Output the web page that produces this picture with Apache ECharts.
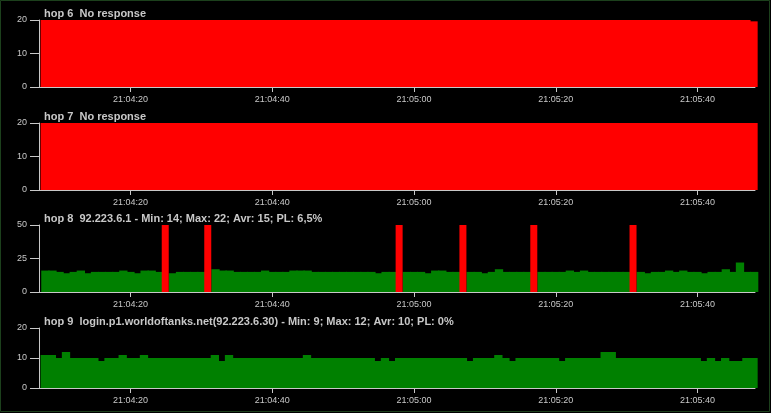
<!DOCTYPE html>
<html><head><meta charset="utf-8">
<script src="https://cdn.jsdelivr.net/npm/echarts@6/dist/echarts.min.js"></script>
<style>html,body{margin:0;padding:0;background:#000;}#c{width:771px;height:413px;}</style>
</head><body><div id="c"></div>
<script>
// ---- data ----
const panelTitles = [
  'hop 6  No response',
  'hop 7  No response',
  'hop 8  92.223.6.1 - Min: 14; Max: 22; Avr: 15; PL: 6,5%',
  'hop 9  login.p1.worldoftanks.net(92.223.6.30) - Min: 9; Max: 12; Avr: 10; PL: 0%'
];
// x axis in seconds after 21:04:00
const tickSeconds = [20, 40, 60, 80, 100];
const tickLabels = ['21:04:20', '21:04:40', '21:05:00', '21:05:20', '21:05:40'];
const firstSampleSec = 7.9; // one sample per second
const yMaxes = [20, 20, 50, 20];
const ySteps = [10, 10, 25, 10];

const hop6 = [
  20,20,20,20,20,20,20,20,20,20,
  20,20,20,20,20,20,20,20,20,20,
  20,20,20,20,20,20,20,20,20,20,
  20,20,20,20,20,20,20,20,20,20,
  20,20,20,20,20,20,20,20,20,20,
  20,20,20,20,20,20,20,20,20,20,
  20,20,20,20,20,20,20,20,20,20,
  20,20,20,20,20,20,20,20,20,20,
  20,20,20,20,20,20,20,20,20,20,
  20,20,20,20,20,20,20,20,20,20,
  19.6
];
const hop7 = [
  20,20,20,20,20,20,20,20,20,20,
  20,20,20,20,20,20,20,20,20,20,
  20,20,20,20,20,20,20,20,20,20,
  20,20,20,20,20,20,20,20,20,20,
  20,20,20,20,20,20,20,20,20,20,
  20,20,20,20,20,20,20,20,20,20,
  20,20,20,20,20,20,20,20,20,20,
  20,20,20,20,20,20,20,20,20,20,
  20,20,20,20,20,20,20,20,20,20,
  20,20,20,20,20,20,20,20,20,20,
  20
];
const hop8 = [
  16,16,15,14,15,16,14,15,15,15,
  15,16,15,14,16,16,15,null,14,15,
  15,15,15,null,17,16,16,15,15,15,
  15,16,15,15,15,16,16,16,15,15,
  15,15,15,15,15,15,15,14,15,15,
  null,15,15,15,14,16,16,15,15,null,
  15,15,14,15,17,15,15,15,15,null,
  15,15,15,15,16,15,16,15,15,15,
  15,15,15,null,15,14,15,15,16,15,
  16,15,15,14,15,15,17,15,22,15,
  15
];
const hop8Lost = [17, 23, 50, 59, 69, 83];
const hop9 = [
  11,11,10,12,10,10,10,10,9,10,
  10,11,10,10,11,10,10,10,10,10,
  10,10,10,10,11,9,11,10,10,10,
  10,10,10,10,10,10,10,11,10,10,
  10,10,10,10,10,10,10,9,10,9,
  10,10,10,10,10,10,10,10,10,10,
  9,10,10,10,11,10,9,10,10,10,
  10,10,10,9,10,10,10,10,10,12,
  12,10,10,10,10,10,10,10,10,10,
  10,10,10,9,10,9,10,9,9,10,
  10
];

// ---- layout / style ----
const gridTops = [20, 123, 225, 328];
const gridHeights = [67, 67, 67, 60];
const titleTops = [8, 111, 213, 316];
const textColor = '#c8c8c8';
const RED = '#ff0000', GREEN = '#008000';

const times = hop6.map((_, i) => firstSampleSec + i);
const pairs = vals => vals.map((v, i) => [times[i], v]);

const grids = [], xAxes = [], yAxes = [], titles = [];
for (let k = 0; k < 4; k++) {
  grids.push({left: 39, width: 716, top: gridTops[k], height: gridHeights[k], containLabel: false});
  xAxes.push({
    type: 'value', gridIndex: k, min: 7.09, max: 108.11,
    axisLine: {show: true, onZero: false, lineStyle: {color: textColor, width: 1}},
    axisTick: {show: true, length: 5, lineStyle: {color: textColor}, customValues: tickSeconds},
    axisLabel: {show: true, customValues: tickSeconds, color: textColor, fontSize: 9,
      fontFamily: 'Liberation Sans', margin: 8,
      formatter: v => tickLabels[tickSeconds.indexOf(v)] || ''},
    splitLine: {show: false}
  });
  yAxes.push({
    type: 'value', gridIndex: k, min: 0, max: yMaxes[k], interval: ySteps[k],
    axisLine: {show: true, lineStyle: {color: textColor, width: 1}},
    axisTick: {show: true, length: 9, lineStyle: {color: textColor}},
    axisLabel: {color: textColor, fontSize: 9, fontFamily: 'Liberation Sans', margin: 12},
    splitLine: {show: false}
  });
  titles.push({
    text: panelTitles[k], left: 44, top: titleTops[k], padding: 0,
    textStyle: {color: textColor, fontSize: 11, fontWeight: 'bold', fontFamily: 'Liberation Sans'}
  });
}

const barBase = {type: 'bar', barWidth: 8.3, barGap: '-100%', silent: true, animation: false};
const lostData = hop8Lost.map(i => [times[i], yMaxes[2]]);

const option = {
  backgroundColor: '#000',
  animation: false,
  title: titles,
  grid: grids,
  xAxis: xAxes,
  yAxis: yAxes,
  series: [
    Object.assign({}, barBase, {xAxisIndex: 0, yAxisIndex: 0, data: pairs(hop6), itemStyle: {color: RED}}),
    Object.assign({}, barBase, {xAxisIndex: 1, yAxisIndex: 1, data: pairs(hop7), itemStyle: {color: RED}}),
    Object.assign({}, barBase, {xAxisIndex: 2, yAxisIndex: 2, data: pairs(hop8), itemStyle: {color: GREEN}}),
    Object.assign({}, barBase, {xAxisIndex: 2, yAxisIndex: 2, data: lostData, itemStyle: {color: RED}, barWidth: 7, z: 3}),
    Object.assign({}, barBase, {xAxisIndex: 3, yAxisIndex: 3, data: pairs(hop9), itemStyle: {color: GREEN}})
  ],
  graphic: [{
    type: 'rect', silent: true, z: 100,
    shape: {x: 0.5, y: 0.5, width: 769, height: 411},
    style: {fill: 'none', stroke: '#1c401c', lineWidth: 1}
  }]
};

const chart = echarts.init(document.getElementById('c'), null, {renderer: 'canvas'});
chart.setOption(option);
</script>
</body></html>
